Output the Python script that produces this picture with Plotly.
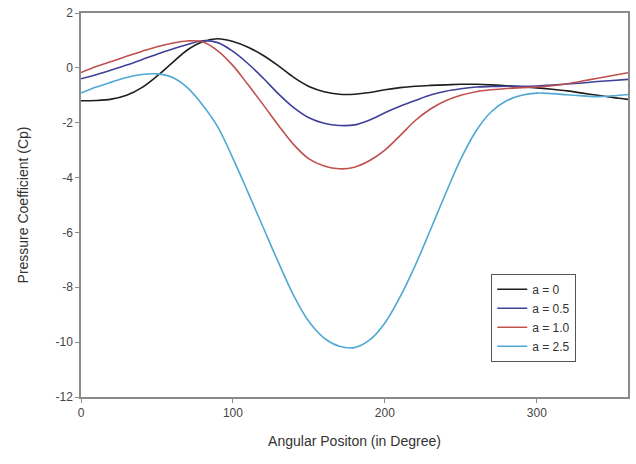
import plotly.graph_objects as go

angles = list(range(0, 361, 10))

cp_a0 = [-1.20, -1.19, -1.14, -1.00, -0.72, -0.30, 0.18, 0.65, 0.95, 1.06,
         0.96, 0.75, 0.45, 0.07, -0.35, -0.68, -0.87, -0.96, -0.96, -0.90,
         -0.80, -0.72, -0.67, -0.64, -0.62, -0.60, -0.60, -0.62, -0.65, -0.69,
         -0.73, -0.78, -0.84, -0.92, -1.00, -1.08, -1.15]
cp_a05 = [-0.40, -0.25, -0.08, 0.10, 0.30, 0.50, 0.68, 0.85, 0.99, 0.92,
          0.60, 0.15, -0.38, -0.95, -1.45, -1.82, -2.02, -2.10, -2.08, -1.90,
          -1.64, -1.40, -1.19, -0.99, -0.85, -0.76, -0.70, -0.68, -0.67, -0.67,
          -0.66, -0.63, -0.59, -0.55, -0.50, -0.46, -0.42]
cp_a10 = [-0.17, 0.05, 0.23, 0.42, 0.60, 0.77, 0.90, 0.98, 0.95, 0.62,
          0.08, -0.62, -1.35, -2.10, -2.80, -3.32, -3.58, -3.68, -3.62, -3.38,
          -3.00, -2.47, -1.92, -1.50, -1.20, -1.00, -0.87, -0.80, -0.75, -0.72,
          -0.70, -0.65, -0.58, -0.48, -0.38, -0.28, -0.18]
cp_a25 = [-0.92, -0.70, -0.52, -0.35, -0.24, -0.22, -0.34, -0.72, -1.35, -2.15,
          -3.30, -4.55, -5.83, -7.10, -8.30, -9.25, -9.85, -10.15, -10.20, -9.92,
          -9.30, -8.35, -7.20, -5.90, -4.58, -3.32, -2.30, -1.60, -1.20, -1.00,
          -0.92, -0.94, -0.98, -1.02, -1.05, -1.02, -0.97]

series_names = ["a = 0", "a = 0.5", "a = 1.0", "a = 2.5"]
series_values = [cp_a0, cp_a05, cp_a10, cp_a25]
series_colors = ["#1e1e1e", "#40409a", "#c0504d", "#4fa9d2"]

x_ticks = [0, 100, 200, 300]
x_ticktext = ["0", "100", "200", "300"]
y_ticks = [-12, -10, -8, -6, -4, -2, 0, 2]
y_ticktext = ["-12", "-10", "-8", "-6", "-4", "-2", "0", "2"]

fig = go.Figure()
for name, vals, col in zip(series_names, series_values, series_colors):
    fig.add_trace(go.Scatter(
        x=angles, y=vals, mode="lines", name=name,
        line=dict(color=col, width=1.6, shape="spline", smoothing=1.0),
    ))

axis_common = dict(
    showgrid=False, zeroline=False, showline=True, linecolor="#8a8a8a",
    linewidth=1.5, mirror=True, ticks="outside", ticklen=4, tickcolor="#8a8a8a",
    tickfont=dict(family="Liberation Sans, Arial, sans-serif", size=12, color="#444"),
)

fig.update_layout(
    width=636, height=464,
    margin=dict(l=81, r=6, t=12, b=67),
    paper_bgcolor="white", plot_bgcolor="white",
    font=dict(family="Liberation Sans, Arial, sans-serif", color="#333"),
    xaxis=dict(range=[0, 360], tickvals=x_ticks, ticktext=x_ticktext,
               title=dict(text="Angular Positon (in Degree)",
                          font=dict(size=14, color="#333"), standoff=17),
               **axis_common),
    yaxis=dict(range=[-12, 2], tickvals=y_ticks, ticktext=y_ticktext,
               title=dict(text="Pressure Coefficient (Cp)",
                          font=dict(size=14, color="#333"), standoff=24),
               **axis_common),
    legend=dict(x=0.75, y=0.321, xanchor="left", yanchor="top",
                bgcolor="white", bordercolor="#555", borderwidth=1,
                font=dict(size=12, color="#333"), tracegroupgap=0,
                itemwidth=30, entrywidth=72, entrywidthmode="pixels"),
    showlegend=True,
)

fig.write_html("out.html")
